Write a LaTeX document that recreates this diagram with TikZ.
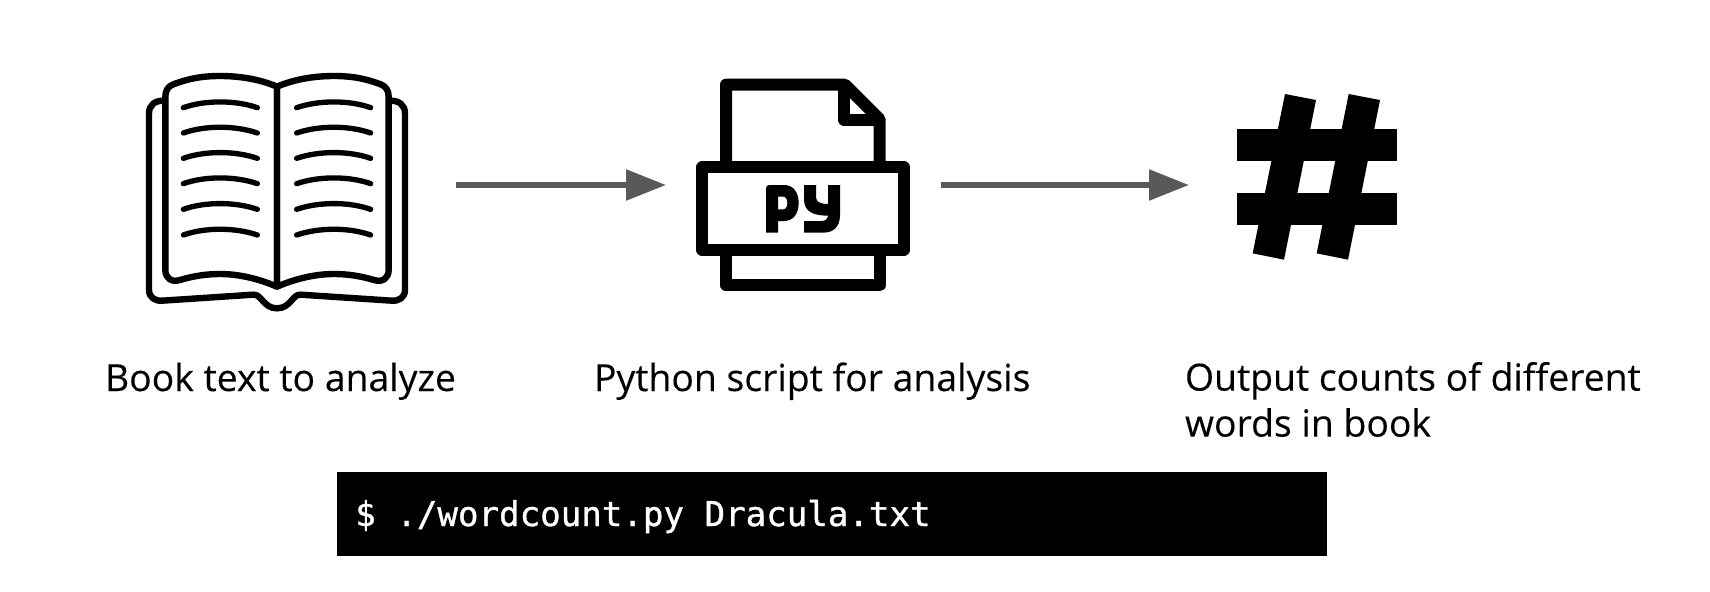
\documentclass[tikz,border=0pt]{standalone}
\usepackage{fontspec}
\setmainfont[RawFeature={embolden=0.2}]{Open Sans}
\newfontfamily\codefont[RawFeature={embolden=1}]{DejaVu Sans Mono}
\usetikzlibrary{arrows.meta}
\definecolor{arrowgray}{HTML}{595959}
\tikzset{
  px/.style={x=0.75pt,y=-0.75pt},
  icon/.style={inner sep=0pt,outer sep=0pt,minimum height=4pt},
  flow/.style={draw=arrowgray,line width=4.2pt,-{Triangle[length=30pt,width=22.5pt,fill=arrowgray]}},
  caption/.style={font=\fontsize{28}{34.5}\selectfont,inner sep=0pt,outer sep=0pt,align=left},
  zoomed/.style={x=0.25pt,y=-0.25pt},
  bookline/.style={line width=4.8pt,line join=round,line cap=round},
  textline/.style={line width=4pt,line cap=round},
  pyline/.style={line width=9pt,line join=round},
}
\begin{document}
\begin{tikzpicture}[px]
\useasboundingbox (0,0) rectangle (1710,592);
% back cover
\begin{scope}[shift={(130,60)},zoomed]
\draw[bookline] (100,122) .. controls (75,122) and (57,135) .. (57,160) -- (57,690)
  .. controls (57,712) and (75,724) .. (97,722) -- (370,704)
  .. controls (395,702) and (400,745) .. (441,745)
  .. controls (482,745) and (487,702) .. (512,704) -- (785,722)
  .. controls (807,724) and (825,712) .. (825,690) -- (825,160)
  .. controls (825,135) and (807,122) .. (782,122);
\foreach \mir/\sh in {1/0,-1/882}{
\begin{scope}[shift={(\sh,0)},xscale=\mir]
\draw[bookline] (441,80) .. controls (390,58) and (330,48) .. (270,48)
  .. controls (210,48) and (170,58) .. (130,73)
  .. controls (114,79) and (106,92) .. (106,110) -- (106,630)
  .. controls (106,655) and (125,668) .. (150,660)
  .. controls (190,648) and (230,642) .. (270,642)
  .. controls (330,642) and (390,658) .. (441,680) -- cycle;
\foreach \yy in {143,219,295,371,448,525}{
  \draw[textline] (160,\yy) .. controls (225,\yy-23) and (315,\yy-23) .. (382,\yy);
}
\end{scope}}
\end{scope}
% python file
\begin{scope}[shift={(660,60)},zoomed]
\draw[pyline] (198,322) -- (198,74) -- (555,74) -- (659,178) -- (659,322);
\draw[pyline] (553,74) -- (553,180) -- (659,180);
\draw[pyline] (127,322) rectangle (731,570);
\draw[pyline] (198,570) -- (198,676) -- (659,676) -- (659,570);
\fill[even odd rule] (318,385) .. controls (318,378) and (322,375) .. (328,375) -- (372,375)
  .. controls (398,375) and (416,395) .. (416,429)
  .. controls (416,463) and (398,483) .. (372,483) -- (354,483) -- (354,518) -- (318,518) -- cycle
  (354,410) -- (354,448) -- (370,448) .. controls (386,448) and (386,410) .. (370,410) -- cycle;
\fill (432,375) -- (468,375) -- (468,412) .. controls (468,426) and (482,432) .. (504,432) -- (504,375) -- (540,375)
  -- (540,465) .. controls (540,500) and (520,518) .. (490,518) -- (432,518) -- (432,483) -- (485,483)
  .. controls (496,483) and (503,477) .. (504,467)
  .. controls (460,467) and (432,455) .. (432,418) -- cycle;
\end{scope}
% hash
\begin{scope}[shift={(1200,70)},zoomed]
\fill (110,177) rectangle (590,272);
\fill (110,369) rectangle (590,464);
\fill (255,72) -- (348,90) -- (252,569) -- (158,550) -- cycle;
\fill (446,72) -- (540,90) -- (444,569) -- (350,550) -- cycle;
\end{scope}
% connector anchors
\node[icon,minimum width=358*0.75pt] (book) at (277,185) {};
\node[icon,minimum width=275*0.75pt] (script) at (803.5,185) {};
\node[icon,minimum width=254*0.75pt] (hash) at (1316,185) {};
\draw[flow] (book.east) -- (script.west);
\draw[flow] (script.east) -- (hash.west);
% captions
\node[caption,anchor=base west] (c1) at (105,391) {Book text to analyze};
\node[caption,anchor=base west] (c2) at (594,391) {Python script for analysis};
\node[caption,anchor=north west] (c3) at (1185,362) {Output counts of different\\words in book};
% command
\node[fill=black,minimum width=990*0.75pt,minimum height=84*0.75pt,inner sep=0pt,outer sep=0pt] (cmd) at (832,514) {};
\node[anchor=base west,inner sep=0pt,text=white,font=\codefont\fontsize{25.6}{30}\selectfont] (cmdtext) at (355,526) {\$ ./wordcount.py Dracula.txt};
\end{tikzpicture}
\end{document}
